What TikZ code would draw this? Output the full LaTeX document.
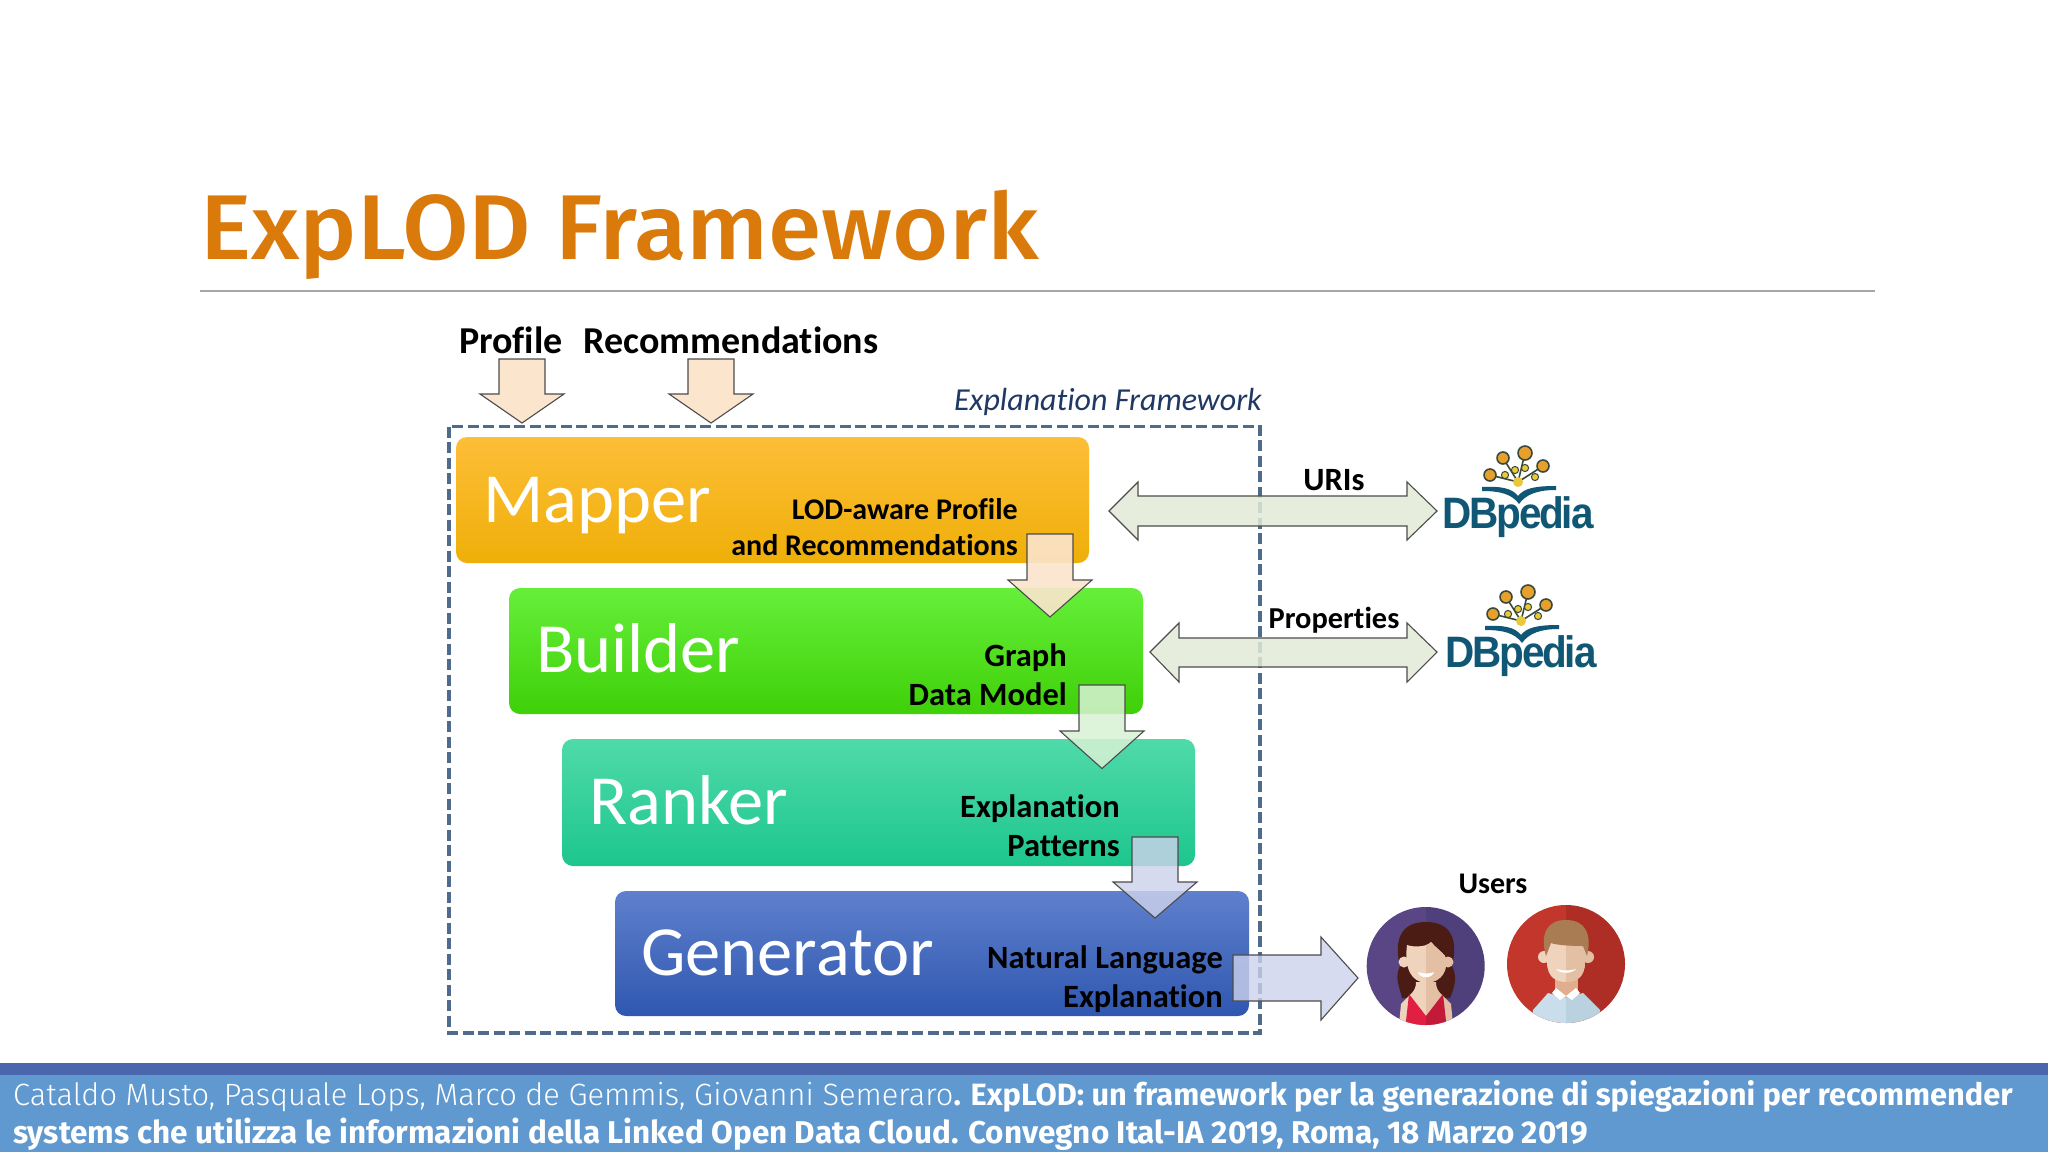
\documentclass[tikz,border=0pt]{standalone}
\usepackage{fontspec}
\setmainfont{Carlito}[Ligatures=NoCommon]
\newfontfamily\titlef{Fira Sans Medium}[FakeStretch=1.05]
\newfontfamily\lightf{Fira Sans Light}
\newfontfamily\boldf{Fira Sans}[BoldFont={Fira Sans Bold}]
\newfontfamily\dbf{Liberation Sans}[LetterSpace=-5,FakeStretch=0.92]
\definecolor{titleor}{HTML}{D97A0B}
\definecolor{rulegray}{HTML}{A6A6A6}
\definecolor{dashblue}{HTML}{4F6B8C}
\definecolor{navy}{HTML}{1F3864}
\definecolor{peach}{HTML}{FBE5CD}
\definecolor{pale}{HTML}{E3EBD8}
\definecolor{lav}{HTML}{CDD2EC}
\definecolor{mint}{HTML}{D8F2D4}
\definecolor{bandD}{HTML}{4A66AC}
\definecolor{bandL}{HTML}{6099D0}
\definecolor{logoblue}{HTML}{0F5774}
\definecolor{logoor}{HTML}{E8A02C}
\definecolor{logodk}{HTML}{3A4A3A}
\definecolor{logoye}{HTML}{E9C93B}
\definecolor{skin}{HTML}{EFD3BC}
\definecolor{skinD}{HTML}{E3BFA4}
\definecolor{mapT}{HTML}{FDBE38}\definecolor{mapM}{HTML}{FFC000}\definecolor{mapB}{HTML}{EFAF08}
\definecolor{buiT}{HTML}{66EF3A}\definecolor{buiM}{HTML}{4CF00A}\definecolor{buiB}{HTML}{3FD008}
\definecolor{ranT}{HTML}{4FDAA9}\definecolor{ranM}{HTML}{2ADFA0}\definecolor{ranB}{HTML}{1DC68E}
\definecolor{genT}{HTML}{5F80CC}\definecolor{genM}{HTML}{3E6AC8}\definecolor{genB}{HTML}{2F57B0}
\definecolor{wPurA}{HTML}{5A4585}\definecolor{wPurB}{HTML}{4F3F7A}
\definecolor{wHair}{HTML}{4A1C14}\definecolor{wDress}{HTML}{E01F42}\definecolor{wDressD}{HTML}{C41A3A}
\definecolor{mRedA}{HTML}{C2362C}\definecolor{mRedB}{HTML}{AE2E25}
\definecolor{mShirt}{HTML}{C9DEEA}\definecolor{mShirtD}{HTML}{BAD1DF}\definecolor{mHair}{HTML}{A97C54}
\definecolor{mNeck}{HTML}{E0AD8E}
\newcommand{\wfacepath}{(1407,945) .. controls (1416,948) and (1428,946) .. (1431,942) .. controls (1436,948) and (1442,952) .. (1445,956) .. controls (1449,970) and (1442,982) .. (1426,983) .. controls (1411,982) and (1404,968) .. (1407,945) -- cycle}
\newcommand{\mfacepath}{(1547,935) -- (1585,935) -- (1585,962) .. controls (1585,978) and (1575,982) .. (1566,982) .. controls (1557,982) and (1547,978) .. (1547,962) -- cycle}
\tikzset{
  x=1pt,y=-1pt,
  modulebox/.style={rounded corners=11pt,draw=none},
  modname/.style={inner sep=0,anchor=base west,text=white,font=\fontsize{70.5}{80}\selectfont},
  sublabel/.style={inner sep=0,anchor=base east,text=black,font=\bfseries\fontsize{32.5}{36}\selectfont},
  sublabelA/.style={sublabel,font=\bfseries\fontsize{30}{34}\selectfont},
  toplabel/.style={inner sep=0,text=black,font=\bfseries\fontsize{38}{42}\selectfont},
  linklabel/.style={inner sep=0,text=black,font=\bfseries\fontsize{30.4}{34}\selectfont},
  blockarrow/.style={draw=black!70,line width=1.1pt,line join=miter},
  logonode/.pic={
    \draw[logodk,line width=1.6pt] (0,0)--(7,-29) (0,0)--(-15,-24) (0,0)--(25,-16) (0,0)--(-28,-7);
    \foreach \a/\b in {-3/-12,7/-14,-13/-7,17/-5}{\fill[logoye,draw=logodk,line width=1pt] (\a,\b) circle[radius=3.6];}
    \foreach \a/\b/\r in {7/-29/7,-15/-24/6,25/-16/6,-28/-7/6}{\fill[logoor,draw=logodk,line width=1.6pt] (\a,\b) circle[radius=\r];}
    \fill[logoye] (0,0) circle[radius=5];
    \fill[logoblue] (-36,5) .. controls (-18,4) and (-6,6) .. (0,14) .. controls (6,6) and (18,4) .. (38,4)
      -- (38,8) .. controls (20,8) and (8,12) .. (1,22) .. controls (-6,12) and (-18,9) .. (-36,9) -- cycle;
    \node[inner sep=0,anchor=base,text=logoblue] (-word) at (0,46) {\dbf\bfseries\fontsize{44}{50}\selectfont DBpedia};
  }
}
\newcommand{\downarrowblk}[6]{% tipx halfshaft top headstart tipy style (head half-width 42)
  \path[blockarrow,#6] (#1-#2,#3) -- (#1+#2,#3) -- (#1+#2,#4) -- (#1+42,#4) -- (#1,#5) -- (#1-42,#4) -- (#1-#2,#4) -- cycle;}
\begin{document}
\begin{tikzpicture}
\useasboundingbox (0,0) rectangle (2048,1152);
\fill[white] (0,0) rectangle (2048,1152);

% title
\node[inner sep=0,anchor=base west,text=titleor] (title) at (200,259) {\titlef\fontsize{92}{100}\selectfont ExpLOD Framework};
\coordinate (ruleL) at (200,291);
\coordinate (ruleR) at (1875,291);
\draw[rulegray,line width=1.3pt] (ruleL) -- (ruleR);

% module boxes
\path[modulebox,top color=mapT,middle color=mapM,bottom color=mapB] (456,437) rectangle (1089,563);
\path[modulebox,top color=buiT,middle color=buiM,bottom color=buiB] (509,588) rectangle (1143,714);
\path[modulebox,top color=ranT,middle color=ranM,bottom color=ranB] (562,739) rectangle (1195,866);
\path[modulebox,top color=genT,middle color=genM,bottom color=genB] (615,891) rectangle (1249,1016);

\node[modname] (mapper) at (483,522) {Mapper};
\node[modname] (builder) at (536,672) {Builder};
\node[modname] (ranker) at (589,824) {Ranker};
\node[modname] (generator) at (641,975) {Generator};

\node[sublabelA] (s1a) at (1018,519) {LOD-aware Profile};
\node[sublabelA] (s1b) at (1018,555) {and Recommendations};
\node[sublabel] (s2a) at (1067,666) {Graph};
\node[sublabel] (s2b) at (1067,705) {Data Model};
\node[sublabel] (s3a) at (1120,817) {Explanation};
\node[sublabel] (s3b) at (1120,856) {Patterns};
\node[sublabel] (s4a) at (1223,968) {Natural Language};
\node[sublabel] (s4b) at (1223,1007) {Explanation};

% dashed frame
\draw[dashblue,line width=3.8pt,dash pattern=on 11pt off 4.5pt] (449,426.5) rectangle (1260,1033);
\node[inner sep=0,anchor=base east,text=navy,font=\itshape\fontsize{32}{36}\selectfont] (frame) at (1262,410) {Explanation Framework};

% top labels and arrows
\node[toplabel] (profile) at (511,340) {Profile};
\node[toplabel] (recs) at (731,340) {Recommendations};
\downarrowblk{522}{23}{359}{394}{423}{fill=peach}
\downarrowblk{711}{23}{359}{394}{423}{fill=peach}
\downarrowblk{1050}{23}{534}{580}{617}{fill=peach,fill opacity=.9}
\downarrowblk{1102}{23}{685}{731}{768.5}{fill=mint,fill opacity=.85}
\downarrowblk{1155}{23}{837}{882}{918}{fill=lav,fill opacity=.82}

% double arrows
\path[blockarrow,fill=pale,fill opacity=.85] (1109,511) -- (1138,482) -- (1138,496) -- (1407,496) -- (1407,482) -- (1437,511) -- (1407,540) -- (1407,526) -- (1138,526) -- (1138,540) -- cycle;
\path[blockarrow,fill=pale,fill opacity=.85] (1150,652) -- (1179,623) -- (1179,638) -- (1407,638) -- (1407,623) -- (1437,652) -- (1407,682) -- (1407,667) -- (1179,667) -- (1179,682) -- cycle;
\node[linklabel,font=\bfseries\fontsize{32.5}{34}\selectfont] (uris) at (1334,480) {URIs};
\node[linklabel] (props) at (1334,620) {Properties};

% generator output arrow
\path[blockarrow,fill=lav,fill opacity=.8] (1233,955) -- (1321,955) -- (1321,937) -- (1358,978) -- (1321,1020) -- (1321,1001) -- (1233,1001) -- cycle;

% logos
\pic (dbA) at (1518,482) {logonode};
\pic (dbB) at (1521,621) {logonode};

% users
\node[toplabel,font=\bfseries\fontsize{30}{34}\selectfont] (users) at (1493,884) {Users};

% woman
\begin{scope}
\clip (1425.7,966) circle[radius=59];
\fill[wPurA] (1366,900) rectangle (1426,1030);
\fill[wPurB] (1426,900) rectangle (1486,1030);
\fill[wHair] (1426,922) .. controls (1394,922) and (1396,950) .. (1400,966) .. controls (1394,978) and (1400,988) .. (1402,998) -- (1450,998) .. controls (1454,988) and (1458,978) .. (1452,966) .. controls (1456,950) and (1458,922) .. (1426,922) -- cycle;
\fill[skin] (1398,1035) -- (1401,1004) .. controls (1410,994) and (1416,992) .. (1416,982) -- (1426,982) -- (1426,1035) -- cycle;
\fill[skinD] (1454,1035) -- (1451,1004) .. controls (1442,994) and (1436,992) .. (1436,982) -- (1426,982) -- (1426,1035) -- cycle;
\fill[wDress] (1405,1030) -- (1409,994) -- (1426,1016) -- (1426,1030) -- cycle;
\fill[wDressD] (1447,1030) -- (1443,994) -- (1426,1016) -- (1426,1030) -- cycle;
\fill[skin] (1404,962) circle[radius=5.5];
\fill[skinD] (1448,962) circle[radius=5.5];
\fill[skin] \wfacepath;
\begin{scope}\clip (1426,930) rectangle (1460,1000);\fill[skinD] \wfacepath;\end{scope}
\fill[white] (1418,972) .. controls (1423,974) and (1430,974) .. (1434,972) .. controls (1432,979) and (1420,979) .. (1418,972) -- cycle;
\end{scope}
% man
\begin{scope}
\clip (1566,964) circle[radius=59];
\fill[mRedA] (1506,900) rectangle (1566,1030);
\fill[mRedB] (1566,900) rectangle (1626,1030);
\fill[mNeck] (1555,975) rectangle (1578,1000);
\fill[mShirt] (1530,1030) -- (1533,1010) -- (1548,993) -- (1566,998) -- (1566,1030) -- cycle;
\fill[mShirtD] (1602,1030) -- (1600,1010) -- (1583,993) -- (1566,998) -- (1566,1030) -- cycle;
\fill[white] (1556,988) -- (1566,996) -- (1560,1000) -- (1552,993) -- cycle (1576,988) -- (1566,996) -- (1572,1000) -- (1580,993) -- cycle;
\fill[skin] (1544,957) circle[radius=6];
\fill[skinD] (1588,957) circle[radius=6];
\fill[skin] \mfacepath;
\begin{scope}\clip (1566,930) rectangle (1600,1000);\fill[skinD] \mfacepath;\end{scope}
\fill[mHair] (1546,956) .. controls (1540,935) and (1546,920) .. (1566,920) .. controls (1586,920) and (1592,935) .. (1587,956) -- (1583,946) .. controls (1570,946) and (1556,945) .. (1551,943) -- cycle;
\fill[white] (1556,969) .. controls (1562,971) and (1570,971) .. (1576,969) .. controls (1572,974) and (1560,974) .. (1556,969) -- cycle;
\end{scope}

% band
\fill[bandL] (0,1075) rectangle (2048,1152);
\fill[bandD] (0,1063) rectangle (2048,1075);
\node[inner sep=0,anchor=base west,text=white] (cite1) at (13,1105) {{\fontsize{30.8}{34}\selectfont\lightf Cataldo Musto, Pasquale Lops, Marco de Gemmis, Giovanni Semeraro}{\fontsize{30.8}{34}\selectfont\boldf\bfseries . ExpLOD: un framework per la generazione di spiegazioni per recommender}};
\node[inner sep=0,anchor=base west,text=white] (cite2) at (13,1143) {\fontsize{31.45}{34}\selectfont\boldf\bfseries systems che utilizza le informazioni della Linked Open Data Cloud. Convegno Ital-IA 2019, Roma, 18 Marzo 2019};
\end{tikzpicture}
\end{document}
